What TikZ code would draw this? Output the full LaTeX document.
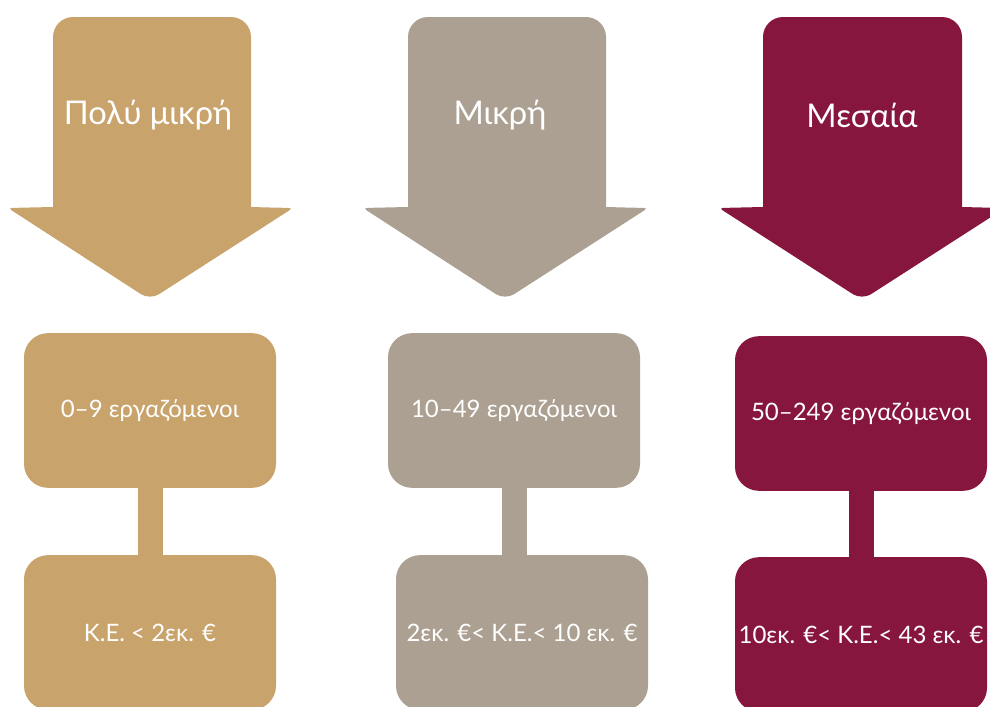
\documentclass[tikz,border=0pt]{standalone}
\usepackage{fontspec}
\setmainfont{Lato}
\usetikzlibrary{positioning}
\definecolor{sand}{RGB}{201,163,108}
\definecolor{taupe}{RGB}{171,160,145}
\definecolor{wine}{RGB}{135,22,62}

\begin{document}
\begin{tikzpicture}[x=0.75pt,y=-0.75pt]
\tikzset{
  sizebox/.style={rectangle,rounded corners=18pt,minimum width=189pt,minimum height=116pt,inner sep=0pt,text=white,font=\fontsize{18}{22}\selectfont},
  headlabel/.style={text=white,inner sep=0pt,font=\fontsize{24.5}{29}\selectfont},
  link/.style={line width=18.75pt}
}
\useasboundingbox (0,0) rectangle (990,707);
\clip (0,0) rectangle (990,707);
% arrows
\fill[sand] (53,120) [rounded corners=15pt] -- (53,17) -- (251,17) -- (251,120) [sharp corners] -- (251,207) -- (270,207.5) [rounded corners=3pt] -- (293,208) -- (221.5,254) [rounded corners=8pt] -- (150,300) -- (79,254) [rounded corners=3pt] -- (8,208) -- (30,207.5) [sharp corners] -- (53,207) -- cycle;
\fill[taupe] (408,120) [rounded corners=15pt] -- (408,17) -- (606,17) -- (606,120) [sharp corners] -- (606,207) -- (625,207.5) [rounded corners=3pt] -- (648,208) -- (576.5,254) [rounded corners=8pt] -- (505,300) -- (434,254) [rounded corners=3pt] -- (363,208) -- (385,207.5) [sharp corners] -- (408,207) -- cycle;
\fill[wine] (763,120) [rounded corners=15pt] -- (763,17) -- (962,17) -- (962,120) [sharp corners] -- (962,207) -- (982,207.5) [rounded corners=3pt] -- (1005,208) -- (933.5,254) [rounded corners=8pt] -- (862,300) -- (790.5,254) [rounded corners=3pt] -- (719,208) -- (741,207.5) [sharp corners] -- (763,207) -- cycle;
\node[headlabel] (h_verysmall) at (148,115) {Πολύ μικρή};
\node[headlabel] (h_small) at (500,115) {Μικρή};
\node[headlabel] (h_medium) at (862,115) {Μεσαία};
% boxes
\node[sizebox,fill=sand] (b_staff1) at (150,410.5) {0–9 εργαζόμενοι};
\node[sizebox,fill=sand] (b_turn1) at (150,632.5) {Κ.Ε. < 2εκ. €};
\node[sizebox,fill=taupe] (b_staff2) at (514,410.5) {10–49 εργαζόμενοι};
\node[sizebox,fill=taupe] (b_turn2) at (522,632.5) {2εκ. €< Κ.Ε.< 10 εκ. €};
\node[sizebox,fill=wine] (b_staff3) at (861,413.5) {50–249 εργαζόμενοι};
\node[sizebox,fill=wine] (b_turn3) at (861,634.5) {10εκ. €< Κ.Ε.< 43 εκ. €};
% links
\draw[link,sand] (b_staff1.south) -- (b_turn1.north);
\draw[link,taupe] (b_staff2.south) -- (b_staff2.south |- b_turn2.north);
\draw[link,wine] (b_staff3.south) -- (b_turn3.north);
\end{tikzpicture}
\end{document}
